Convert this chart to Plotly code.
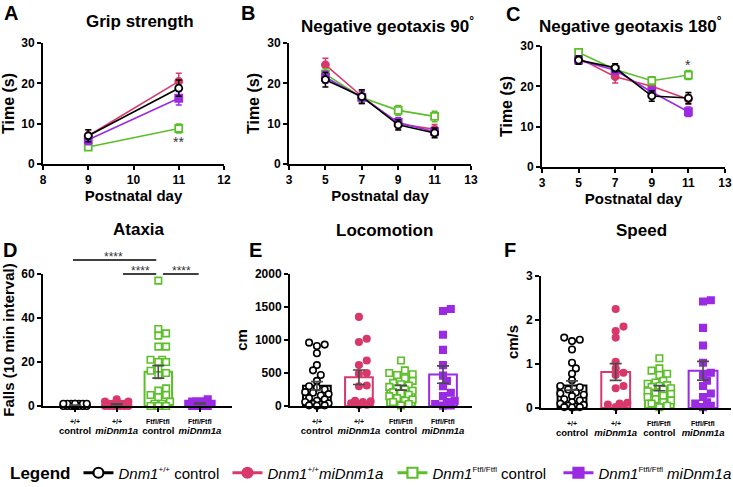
import numpy as np
import plotly.graph_objects as go

W, H = 733, 487
FONT = "Liberation Sans, Arial, Helvetica, sans-serif"
BLACK, PINK, GREEN, PURPLE = "#000000", "#D9386B", "#5CBF2A", "#9A2BE3"
GRAY = "#4a4a4a"

# ---------------- data ----------------
# A: grip strength
grip_days = [9, 11]
grip_ctrl = [7.0, 18.8];      grip_ctrl_err = [1.5, 2.0]
grip_mi = [7.0, 20.5];        grip_mi_err = [1.5, 2.0]
grip_ftfl = [4.2, 8.8];       grip_ftfl_err = [0.6, 1.1]
grip_ftfl_mi = [6.0, 16.3];   grip_ftfl_mi_err = [1.2, 1.7]

# B: negative geotaxis 90
geo_days = [5, 7, 9, 11]
g90_ctrl = [20.9, 16.7, 9.7, 7.7];      g90_ctrl_err = [1.8, 1.7, 1.3, 1.2]
g90_mi = [24.6, 16.8, 10.0, 8.6];       g90_mi_err = [1.6, 1.5, 1.3, 1.2]
g90_ftfl = [22.3, 16.5, 13.3, 11.8];    g90_ftfl_err = [1.3, 1.4, 1.2, 1.3]
g90_ftfl_mi = [21.5, 16.5, 10.3, 8.0];  g90_ftfl_mi_err = [1.5, 1.5, 1.2, 1.0]

# C: negative geotaxis 180
g180_ctrl = [26.5, 24.6, 17.6, 17.1];     g180_ctrl_err = [1.0, 1.0, 1.3, 1.4]
g180_mi = [27.0, 22.4, 20.0, 16.8];       g180_mi_err = [1.2, 1.6, 1.4, 1.2]
g180_ftfl = [28.4, 24.2, 21.4, 22.8];     g180_ftfl_err = [0.5, 0.8, 1.0, 1.1]
g180_ftfl_mi = [26.5, 24.0, 18.6, 13.7];  g180_ftfl_mi_err = [1.0, 1.0, 1.2, 1.2]

# D: ataxia (falls per 10 min)
ataxia_ctrl = [0]*17 + [1]*8
ataxia_mi = [0]*7 + [1]*5 + [2]*2 + [3]
ataxia_ftfl = [57, 35, 33, 32, 27, 27, 21, 21, 20, 20, 17, 16, 15, 14, 8, 7, 5, 5, 4, 2, 1, 1, 0, 0, 0]
ataxia_ftfl_mi = [0]*4 + [1]*6 + [2]*4 + [3]

# E: locomotion (cm)
loco_ctrl = [960, 930, 910, 800, 620, 540, 470, 380, 300, 280, 250, 210, 200, 180, 160, 120, 100, 80, 60, 40, 30, 20, 10, 10, 5]
loco_mi = [1350, 1020, 970, 690, 620, 500, 490, 310, 300, 80, 70, 60, 40, 20, 10]
loco_ftfl = [690, 540, 500, 480, 470, 420, 380, 350, 330, 310, 290, 270, 250, 230, 210, 190, 170, 150, 120, 100, 80, 60, 30, 10]
loco_ftfl_mi = [1470, 1440, 1080, 850, 620, 460, 380, 300, 200, 150, 80, 60, 30, 10, 5]

# F: speed (cm/s)
speed_ctrl = [1.60, 1.55, 1.52, 1.33, 1.03, 0.90, 0.78, 0.63, 0.50, 0.47, 0.42, 0.35, 0.33, 0.30, 0.27, 0.20, 0.17, 0.13, 0.10, 0.07, 0.05, 0.03, 0.02, 0.02, 0.01]
speed_mi = [2.25, 1.85, 1.75, 1.60, 1.05, 0.90, 0.80, 0.75, 0.50, 0.45, 0.12, 0.10, 0.08, 0.05, 0.02]
speed_ftfl = [1.13, 0.90, 0.85, 0.78, 0.75, 0.62, 0.58, 0.55, 0.52, 0.50, 0.48, 0.45, 0.42, 0.38, 0.35, 0.32, 0.28, 0.25, 0.20, 0.17, 0.13, 0.10, 0.05, 0.02]
speed_ftfl_mi = [2.45, 2.42, 1.82, 1.42, 1.03, 0.80, 0.75, 0.62, 0.50, 0.33, 0.25, 0.13, 0.10, 0.05, 0.02]

genotype_labels = ["+/+", "+/+", "Ftfl/Ftfl", "Ftfl/Ftfl"]
treatment_labels = ["control", "<i>miDnm1a</i>", "control", "<i>miDnm1a</i>"]
SUP = "<sup><span style='font-size:8px'>%s</span></sup>"
legend_names = [
    "<i>Dnm1</i>" + SUP % "+/+" + " control",
    "<i>Dnm1</i>" + SUP % "+/+" + "<i>miDnm1a</i>",
    "<i>Dnm1</i>" + SUP % "Ftfl/Ftfl" + " control",
    "<i>Dnm1</i>" + SUP % "Ftfl/Ftfl" + " <i>miDnm1a</i>",
]
legend_widths = [104, 120, 121, 130]

# ---------------- styles ----------------
STY = {
    "ctrl": dict(color=BLACK, symbol="circle", fill="white"),
    "mi": dict(color=PINK, symbol="circle", fill=PINK),
    "ftfl": dict(color=GREEN, symbol="square", fill="white"),
    "ftfl_mi": dict(color=PURPLE, symbol="square", fill=PURPLE),
}

def px(x):
    return x / W

def py(y):
    return 1 - y / H

fig = go.Figure()

# ---------------- line panels A-C ----------------
def line_panel(xa, ya, days, data):
    for key in ["mi", "ftfl", "ftfl_mi", "ctrl"]:
        vals, errs = data[key]
        s = STY[key]
        fig.add_trace(go.Scatter(
            x=days, y=vals, mode="lines+markers", xaxis=xa, yaxis=ya,
            line=dict(color=s["color"], width=1.6),
            marker=dict(symbol=s["symbol"], size=7, color=s["fill"],
                        line=dict(color=s["color"], width=1.8)),
            error_y=dict(type="data", array=errs, color=s["color"], thickness=1.5, width=3),
            showlegend=False, cliponaxis=False))

line_panel("x", "y", grip_days, {
    "ctrl": (grip_ctrl, grip_ctrl_err), "mi": (grip_mi, grip_mi_err),
    "ftfl": (grip_ftfl, grip_ftfl_err), "ftfl_mi": (grip_ftfl_mi, grip_ftfl_mi_err)})
line_panel("x2", "y2", geo_days, {
    "ctrl": (g90_ctrl, g90_ctrl_err), "mi": (g90_mi, g90_mi_err),
    "ftfl": (g90_ftfl, g90_ftfl_err), "ftfl_mi": (g90_ftfl_mi, g90_ftfl_mi_err)})
line_panel("x3", "y3", geo_days, {
    "ctrl": (g180_ctrl, g180_ctrl_err), "mi": (g180_mi, g180_mi_err),
    "ftfl": (g180_ftfl, g180_ftfl_err), "ftfl_mi": (g180_ftfl_mi, g180_ftfl_mi_err)})

# legend entries
for rank, (key, name, lw) in enumerate(zip(["ctrl", "mi", "ftfl", "ftfl_mi"], legend_names, legend_widths)):
    s = STY[key]
    fig.add_trace(go.Scatter(
        x=[None], y=[None], mode="lines+markers", name=name, xaxis="x", yaxis="y",
        line=dict(color=s["color"], width=3),
        marker=dict(symbol=s["symbol"], size=10, color=s["fill"],
                    line=dict(color=s["color"], width=2.2)),
        legendrank=rank + 1, legendwidth=lw, showlegend=True))

# ---------------- bar/scatter panels D-F ----------------
def swarm(vals, px_per_val, px_per_cat, msize, halfw):
    vals = np.asarray(vals, dtype=float)
    order = np.argsort(vals, kind="stable")
    step = msize * 0.6
    cands = [0.0]
    k = 1
    while k * step <= halfw:
        cands += [k * step, -k * step]
        k += 1
    placed = []
    xs = np.zeros(len(vals))
    for i in order:
        yv = vals[i] * px_per_val
        best, bestd = 0.0, -1
        for c in cands:
            d = min((np.hypot(c - a, yv - b) for a, b in placed), default=1e9)
            if d >= msize * 0.95:
                best = c
                break
            if d > bestd:
                bestd, best = d, c
        placed.append((best, yv))
        xs[i] = best / px_per_cat
    return xs

def bar_panel(xa, ya, groups, px_per_val, px_per_cat):
    for gi, (key, vals) in enumerate(groups):
        s = STY[key]
        v = np.asarray(vals, dtype=float)
        mean = v.mean()
        sem = v.std(ddof=1) / np.sqrt(len(v))
        fig.add_trace(go.Bar(
            x=[gi], y=[mean], width=0.66, xaxis=xa, yaxis=ya,
            marker=dict(color="rgba(255,255,255,0)", line=dict(color=s["color"], width=2)),
            showlegend=False))
        offs = swarm(v, px_per_val, px_per_cat, 6.5, 13)
        fig.add_trace(go.Scatter(
            x=gi + offs, y=v, mode="markers", xaxis=xa, yaxis=ya,
            marker=dict(symbol=s["symbol"], size=6.5, color=s["fill"],
                        line=dict(color=s["color"], width=1.6)),
            showlegend=False, cliponaxis=False))
        fig.add_trace(go.Scatter(
            x=[gi], y=[mean], mode="markers", xaxis=xa, yaxis=ya,
            marker=dict(size=1, color="rgba(0,0,0,0)"),
            error_y=dict(type="data", array=[sem], color=GRAY, thickness=1.6, width=6),
            showlegend=False, cliponaxis=False))

bar_panel("x4", "y4", [("ctrl", ataxia_ctrl), ("mi", ataxia_mi), ("ftfl", ataxia_ftfl), ("ftfl_mi", ataxia_ftfl_mi)], 132 / 60, 41.7)
bar_panel("x5", "y5", [("ctrl", loco_ctrl), ("mi", loco_mi), ("ftfl", loco_ftfl), ("ftfl_mi", loco_ftfl_mi)], 132 / 2000, 42)
bar_panel("x6", "y6", [("ctrl", speed_ctrl), ("mi", speed_mi), ("ftfl", speed_ftfl), ("ftfl_mi", speed_ftfl_mi)], 132 / 3, 43.7)

# ---------------- axes ----------------
def axis(**kw):
    d = dict(showline=True, linecolor="black", linewidth=2, ticks="outside", ticklen=4,
             tickwidth=2, tickcolor="black", showgrid=False, zeroline=False,
             ticklabeloverflow="allow", tickangle=0,
             tickfont=dict(family=FONT, size=12, color="black", weight="bold"))
    d.update(kw)
    return d

TITLE_FONT = dict(family=FONT, size=15, color="black", weight="bold")
TITLE_FONT_Y = dict(family=FONT, size=16, color="black", weight="bold")
CATFONT = dict(family=FONT, size=9.5, color="black", weight="bold")

lay = {}
# A
lay["xaxis"] = axis(domain=[px(43), px(224)], range=[8, 12], tickvals=[8, 9, 10, 11, 12], anchor="y",
                    title=dict(text="Postnatal day", font=TITLE_FONT, standoff=3))
lay["yaxis"] = axis(domain=[py(164), py(43)], range=[0, 30], tickvals=[0, 10, 20, 30], anchor="x",
                    title=dict(text="Time (s)", font=TITLE_FONT_Y, standoff=4))
# B
lay["xaxis2"] = axis(domain=[px(289), px(471)], range=[3, 13], tickvals=[3, 5, 7, 9, 11, 13], anchor="y2",
                     title=dict(text="Postnatal day", font=TITLE_FONT, standoff=3))
lay["yaxis2"] = axis(domain=[py(164), py(43)], range=[0, 30], tickvals=[0, 10, 20, 30], anchor="x2",
                     title=dict(text="Time (s)", font=TITLE_FONT_Y, standoff=4))
# C
lay["xaxis3"] = axis(domain=[px(542), px(725)], range=[3, 13], tickvals=[3, 5, 7, 9, 11, 13], anchor="y3",
                     title=dict(text="Postnatal day", font=TITLE_FONT, standoff=3))
lay["yaxis3"] = axis(domain=[py(167), py(46)], range=[0, 30], tickvals=[0, 10, 20, 30], anchor="x3",
                     title=dict(text="Time (s)", font=TITLE_FONT_Y, standoff=4))
# D
D_DOM = [py(406), py(274)]
lay["xaxis4"] = axis(domain=[px(43), px(232)], range=[-0.77, 3.77], tickvals=[0, 1, 2, 3],
                     ticktext=treatment_labels, tickfont=CATFONT, ticklabelstandoff=11, anchor="y4")
lay["yaxis4"] = axis(domain=D_DOM, range=[0, 60], tickvals=[0, 20, 40, 60], anchor="x4",
                     title=dict(text="Falls (10 min interval)", font=TITLE_FONT, standoff=4))
# E
lay["xaxis5"] = axis(domain=[px(290), px(472)], range=[-0.64, 3.69], tickvals=[0, 1, 2, 3],
                     ticktext=treatment_labels, tickfont=CATFONT, ticklabelstandoff=11, anchor="y5")
lay["yaxis5"] = axis(domain=[py(406), py(274)], range=[0, 2000], tickvals=[0, 500, 1000, 1500, 2000], anchor="x5",
                     title=dict(text="cm", font=TITLE_FONT, standoff=4))
# F
lay["xaxis6"] = axis(domain=[px(541), px(731)], range=[-0.71, 3.64], tickvals=[0, 1, 2, 3],
                     ticktext=treatment_labels, tickfont=CATFONT, ticklabelstandoff=11, anchor="y6")
lay["yaxis6"] = axis(domain=[py(408), py(276)], range=[0, 3], tickvals=[0, 1, 2, 3], anchor="x6",
                     title=dict(text="cm/s", font=TITLE_FONT, standoff=4))

# ---------------- annotations ----------------
ann = []
def label(text, x, y, size, **kw):
    d = dict(text=text, x=px(x), y=py(y), xref="paper", yref="paper", showarrow=False,
             xanchor="center", yanchor="middle",
             font=dict(family=FONT, size=size, color="black", weight="bold"))
    d.update(kw)
    ann.append(d)

label("Grip strength", 140, 21, 17)
label("Negative geotaxis 90<sup>°</sup>", 387, 25, 17)
label("Negative geotaxis 180<sup>°</sup>", 630, 25, 17)
label("Ataxia", 139, 229, 17)
label("Locomotion", 384, 230, 17)
label("Speed", 641, 230, 17)
for t, x, y in [("A", 11, 13), ("B", 248, 13), ("C", 513, 14), ("D", 10, 250), ("E", 255, 250), ("F", 510, 250)]:
    label(t, x, y, 20)

# genotype line above each treatment label
for xa, ybase in [("x4", 421), ("x5", 421), ("x6", 423)]:
    for i, g in enumerate(genotype_labels):
        ann.append(dict(text=g, x=i, y=py(ybase), xref=xa, yref="paper", showarrow=False,
                        xanchor="center", yanchor="middle",
                        font=dict(family=FONT, size=7, color="black", weight="bold")))

def stars(text, x, y, xa, ya, size=13):
    ann.append(dict(text=text, x=x, y=y, xref=xa, yref=ya, showarrow=False, yshift=3,
                    xanchor="center", yanchor="middle",
                    font=dict(family=FONT, size=size, color="#333333")))

def d_paper(v):
    return D_DOM[0] + (D_DOM[1] - D_DOM[0]) * v / 60.0

stars("**", 11, 4.6, "x", "y", 14)
stars("*", 11, 24.6, "x3", "y3", 14)
stars("****", 0.92, d_paper(66.4), "x4", "paper", 12)
stars("****", 1.58, d_paper(60.0), "x4", "paper", 12)
stars("****", 2.56, d_paper(60.0), "x4", "paper", 12)

shapes = []
for x0, x1, yv in [(-0.05, 1.95, 66.4), (1.15, 1.95, 60.0), (2.11, 2.97, 60.0)]:
    shapes.append(dict(type="line", xref="x4", yref="paper", x0=x0, x1=x1, y0=d_paper(yv), y1=d_paper(yv),
                       line=dict(color="black", width=1.5)))

fig.update_layout(
    width=W, height=H, margin=dict(l=0, r=0, t=0, b=0, autoexpand=False),
    paper_bgcolor="white", plot_bgcolor="rgba(0,0,0,0)",
    barmode="overlay", annotations=ann, shapes=shapes,
    font=dict(family=FONT, color="black"),
    legend=dict(orientation="h", x=px(8), y=py(473), xanchor="left", yanchor="middle",
                font=dict(family=FONT, size=15, color="black"),
                title=dict(text="<b>Legend</b>", font=dict(family=FONT, size=17, color="black"), side="left"),
                bgcolor="rgba(0,0,0,0)", itemwidth=30, tracegroupgap=0),
    **lay,
)

fig.write_html("out.html", config={"displayModeBar": False},
               post_script="document.body.style.margin='0';document.body.style.padding='0';")
